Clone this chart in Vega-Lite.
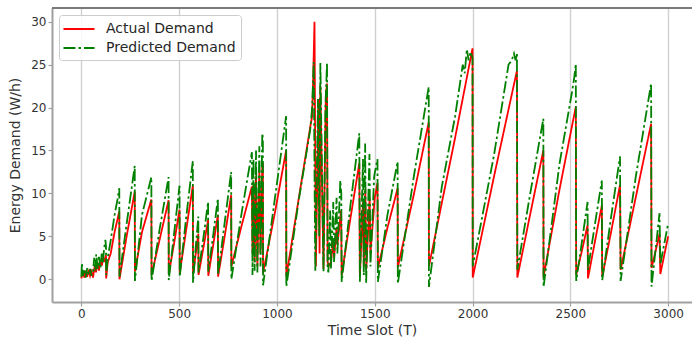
{
  "$schema": "https://vega.github.io/schema/vega-lite/v6.json",
  "width": 640,
  "height": 294,
  "autosize": {"type": "none"},
  "padding": {"left": 52, "top": 8, "right": 0, "bottom": 36},
  "config": {
    "font": "DejaVu Sans",
    "view": {"stroke": null},
    "axis": {
      "domainColor": "#a0a0a0", "domainWidth": 2,
      "tickColor": "#a0a0a0", "tickSize": 4, "tickWidth": 1.2,
      "gridColor": "#d0d0d0", "gridWidth": 1.4,
      "labelFont": "DejaVu Sans", "labelFontSize": 12, "labelColor": "#333333", "labelPadding": 2,
      "titleFont": "DejaVu Sans", "titleFontSize": 14, "titleFontWeight": "normal", "titleColor": "#333333"
    },
    "legend": {"labelFont": "DejaVu Sans"}
  },
  "layer": [
    {
      "data": {"values": [{}]},
      "mark": {"type": "rule", "color": "#7a7a7a", "strokeWidth": 2},
      "encoding": {"y": {"datum": 31.6, "type": "quantitative"}}
    },
    {
      "data": {"values": [
        {"t":0,"v":0.1,"s":"A"},{"t":8,"v":0.9,"s":"A"},{"t":15,"v":0.2,"s":"A"},{"t":22,"v":1.0,"s":"A"},{"t":30,"v":0.3,"s":"A"},{"t":38,"v":1.1,"s":"A"},{"t":45,"v":0.4,"s":"A"},{"t":52,"v":0.9,"s":"A"},{"t":60,"v":0.2,"s":"A"},{"t":68,"v":1.5,"s":"A"},{"t":75,"v":0.8,"s":"A"},{"t":82,"v":2.0,"s":"A"},{"t":90,"v":1.0,"s":"A"},{"t":98,"v":2.3,"s":"A"},{"t":105,"v":1.6,"s":"A"},{"t":112,"v":2.6,"s":"A"},{"t":120,"v":2.0,"s":"A"},{"t":126,"v":2.8,"s":"A"},
        {"t":127,"v":0.1,"s":"A"},{"t":135,"v":2.0,"s":"A"},{"t":150,"v":3.0,"s":"A"},{"t":170,"v":5.5,"s":"A"},{"t":194,"v":7.9,"s":"A"},
        {"t":195,"v":0.0,"s":"A"},{"t":230,"v":4.8,"s":"A"},{"t":273,"v":10.2,"s":"A"},
        {"t":274,"v":0.9,"s":"A"},{"t":310,"v":5.5,"s":"A"},{"t":358,"v":9.3,"s":"A"},
        {"t":359,"v":0.5,"s":"A"},{"t":400,"v":4.6,"s":"A"},{"t":446,"v":9.2,"s":"A"},
        {"t":447,"v":0.6,"s":"A"},{"t":475,"v":4.3,"s":"A"},{"t":502,"v":8.1,"s":"A"},
        {"t":503,"v":0.7,"s":"A"},{"t":535,"v":5.6,"s":"A"},{"t":570,"v":10.9,"s":"A"},
        {"t":571,"v":0.6,"s":"A"},{"t":585,"v":3.0,"s":"A"},{"t":598,"v":5.3,"s":"A"},
        {"t":599,"v":0.5,"s":"A"},{"t":625,"v":3.8,"s":"A"},{"t":648,"v":6.9,"s":"A"},
        {"t":649,"v":0.4,"s":"A"},{"t":675,"v":4.1,"s":"A"},{"t":698,"v":7.5,"s":"A"},
        {"t":699,"v":0.3,"s":"A"},{"t":735,"v":5.3,"s":"A"},{"t":766,"v":9.8,"s":"A"},
        {"t":767,"v":1.5,"s":"A"},{"t":820,"v":6.3,"s":"A"},{"t":872,"v":10.8,"s":"A"},
        {"t":875,"v":3.0,"s":"A"},{"t":880,"v":11.2,"s":"A"},{"t":886,"v":2.0,"s":"A"},{"t":893,"v":12.0,"s":"A"},{"t":900,"v":1.5,"s":"A"},{"t":910,"v":12.6,"s":"A"},{"t":916,"v":3.0,"s":"A"},{"t":925,"v":13.2,"s":"A"},{"t":928,"v":13.3,"s":"A"},
        {"t":929,"v":0.7,"s":"A"},{"t":990,"v":7.8,"s":"A"},{"t":1047,"v":15.0,"s":"A"},
        {"t":1048,"v":0.3,"s":"A"},{"t":1110,"v":9.2,"s":"A"},{"t":1170,"v":17.7,"s":"A"},
        {"t":1180,"v":19.0,"s":"A"},{"t":1186,"v":24.0,"s":"A"},{"t":1192,"v":30.0,"s":"A"},{"t":1199,"v":1.5,"s":"A"},{"t":1213,"v":21.0,"s":"A"},{"t":1218,"v":3.0,"s":"A"},{"t":1222,"v":22.5,"s":"A"},{"t":1238,"v":1.2,"s":"A"},{"t":1250,"v":21.5,"s":"A"},{"t":1256,"v":22.8,"s":"A"},{"t":1259,"v":2.0,"s":"A"},
        {"t":1264,"v":1.5,"s":"A"},{"t":1276,"v":2.0,"s":"A"},{"t":1288,"v":4.5,"s":"A"},{"t":1292,"v":2.5,"s":"A"},{"t":1305,"v":6.0,"s":"A"},{"t":1309,"v":4.0,"s":"A"},{"t":1328,"v":8.0,"s":"A"},
        {"t":1331,"v":0.5,"s":"A"},{"t":1375,"v":7.0,"s":"A"},{"t":1421,"v":13.5,"s":"A"},
        {"t":1424,"v":0.5,"s":"A"},{"t":1440,"v":9.0,"s":"A"},{"t":1444,"v":1.5,"s":"A"},{"t":1452,"v":10.5,"s":"A"},{"t":1457,"v":1.2,"s":"A"},{"t":1474,"v":9.5,"s":"A"},{"t":1478,"v":3.0,"s":"A"},{"t":1500,"v":9.5,"s":"A"},{"t":1514,"v":11.2,"s":"A"},
        {"t":1516,"v":1.3,"s":"A"},{"t":1565,"v":6.0,"s":"A"},{"t":1617,"v":10.6,"s":"A"},
        {"t":1618,"v":1.4,"s":"A"},{"t":1700,"v":9.9,"s":"A"},{"t":1776,"v":18.3,"s":"A"},
        {"t":1777,"v":1.5,"s":"A"},{"t":1843,"v":8.9,"s":"A"},{"t":1911,"v":16.5,"s":"A"},{"t":2000,"v":26.9,"s":"A"},
        {"t":2001,"v":0.2,"s":"A"},{"t":2110,"v":12.0,"s":"A"},{"t":2227,"v":24.3,"s":"A"},
        {"t":2229,"v":0.2,"s":"A"},{"t":2295,"v":7.6,"s":"A"},{"t":2362,"v":15.0,"s":"A"},
        {"t":2363,"v":0.3,"s":"A"},{"t":2445,"v":10.5,"s":"A"},{"t":2528,"v":20.1,"s":"A"},
        {"t":2530,"v":0.5,"s":"A"},{"t":2560,"v":3.4,"s":"A"},{"t":2588,"v":6.3,"s":"A"},
        {"t":2590,"v":0.1,"s":"A"},{"t":2625,"v":4.3,"s":"A"},{"t":2661,"v":8.6,"s":"A"},
        {"t":2663,"v":0.3,"s":"A"},{"t":2710,"v":5.7,"s":"A"},{"t":2754,"v":11.0,"s":"A"},
        {"t":2757,"v":1.1,"s":"A"},{"t":2835,"v":9.6,"s":"A"},{"t":2913,"v":18.1,"s":"A"},
        {"t":2915,"v":1.3,"s":"A"},{"t":2936,"v":3.3,"s":"A"},{"t":2956,"v":5.3,"s":"A"},
        {"t":2960,"v":0.6,"s":"A"},{"t":2980,"v":2.8,"s":"A"},{"t":3000,"v":5.0,"s":"A"},

        {"t":0,"v":0.3,"s":"P"},{"t":3,"v":1.9,"s":"P"},{"t":8,"v":0.4,"s":"P"},{"t":15,"v":1.2,"s":"P"},{"t":22,"v":0.2,"s":"P"},{"t":30,"v":1.3,"s":"P"},{"t":38,"v":0.5,"s":"P"},{"t":45,"v":1.2,"s":"P"},{"t":52,"v":0.4,"s":"P"},{"t":60,"v":1.0,"s":"P"},{"t":66,"v":2.5,"s":"P"},{"t":72,"v":1.0,"s":"P"},{"t":76,"v":2.9,"s":"P"},{"t":84,"v":1.2,"s":"P"},{"t":90,"v":2.6,"s":"P"},{"t":98,"v":1.3,"s":"P"},{"t":104,"v":3.0,"s":"P"},{"t":110,"v":1.8,"s":"P"},{"t":116,"v":3.5,"s":"P"},{"t":123,"v":4.6,"s":"P"},{"t":126,"v":3.8,"s":"P"},
        {"t":127,"v":0.5,"s":"P"},{"t":135,"v":2.5,"s":"P"},{"t":150,"v":4.5,"s":"P"},{"t":170,"v":7.5,"s":"P"},{"t":185,"v":9.3,"s":"P"},{"t":194,"v":10.6,"s":"P"},
        {"t":195,"v":0.3,"s":"P"},{"t":230,"v":6.2,"s":"P"},{"t":273,"v":13.2,"s":"P"},
        {"t":274,"v":-0.2,"s":"P"},{"t":310,"v":7.5,"s":"P"},{"t":358,"v":11.9,"s":"P"},
        {"t":359,"v":-0.2,"s":"P"},{"t":400,"v":5.8,"s":"P"},{"t":446,"v":11.9,"s":"P"},
        {"t":447,"v":-0.1,"s":"P"},{"t":475,"v":5.5,"s":"P"},{"t":502,"v":10.9,"s":"P"},
        {"t":503,"v":0.3,"s":"P"},{"t":535,"v":7.0,"s":"P"},{"t":570,"v":13.8,"s":"P"},
        {"t":571,"v":-0.4,"s":"P"},{"t":585,"v":3.8,"s":"P"},{"t":598,"v":7.3,"s":"P"},
        {"t":599,"v":0.8,"s":"P"},{"t":625,"v":5.0,"s":"P"},{"t":648,"v":9.0,"s":"P"},
        {"t":649,"v":0.9,"s":"P"},{"t":675,"v":5.3,"s":"P"},{"t":698,"v":9.4,"s":"P"},
        {"t":699,"v":0.5,"s":"P"},{"t":735,"v":7.0,"s":"P"},{"t":766,"v":12.5,"s":"P"},
        {"t":767,"v":0.0,"s":"P"},{"t":820,"v":7.8,"s":"P"},{"t":872,"v":14.8,"s":"P"},
        {"t":875,"v":0.5,"s":"P"},{"t":880,"v":14.0,"s":"P"},{"t":886,"v":1.0,"s":"P"},{"t":893,"v":15.0,"s":"P"},{"t":900,"v":0.8,"s":"P"},{"t":910,"v":15.5,"s":"P"},{"t":916,"v":1.5,"s":"P"},{"t":925,"v":17.0,"s":"P"},{"t":928,"v":16.5,"s":"P"},
        {"t":929,"v":-0.7,"s":"P"},{"t":990,"v":9.5,"s":"P"},{"t":1047,"v":19.0,"s":"P"},
        {"t":1048,"v":-0.85,"s":"P"},{"t":1110,"v":9.0,"s":"P"},{"t":1170,"v":17.4,"s":"P"},
        {"t":1180,"v":20.0,"s":"P"},{"t":1188,"v":25.3,"s":"P"},{"t":1196,"v":0.9,"s":"P"},{"t":1210,"v":21.0,"s":"P"},{"t":1216,"v":5.0,"s":"P"},{"t":1222,"v":25.2,"s":"P"},{"t":1238,"v":0.9,"s":"P"},{"t":1248,"v":20.0,"s":"P"},{"t":1256,"v":25.2,"s":"P"},{"t":1259,"v":1.2,"s":"P"},
        {"t":1263,"v":0.8,"s":"P"},{"t":1272,"v":8.0,"s":"P"},{"t":1276,"v":1.2,"s":"P"},{"t":1288,"v":9.0,"s":"P"},{"t":1292,"v":2.0,"s":"P"},{"t":1305,"v":9.5,"s":"P"},{"t":1309,"v":3.0,"s":"P"},{"t":1324,"v":11.5,"s":"P"},{"t":1329,"v":10.0,"s":"P"},
        {"t":1331,"v":-0.3,"s":"P"},{"t":1375,"v":8.5,"s":"P"},{"t":1421,"v":17.0,"s":"P"},
        {"t":1424,"v":-0.3,"s":"P"},{"t":1440,"v":14.0,"s":"P"},{"t":1444,"v":0.5,"s":"P"},{"t":1451,"v":15.8,"s":"P"},{"t":1456,"v":-0.5,"s":"P"},{"t":1473,"v":14.6,"s":"P"},{"t":1478,"v":1.5,"s":"P"},{"t":1497,"v":12.0,"s":"P"},{"t":1514,"v":14.0,"s":"P"},
        {"t":1516,"v":-0.3,"s":"P"},{"t":1565,"v":7.5,"s":"P"},{"t":1617,"v":13.7,"s":"P"},
        {"t":1618,"v":-0.5,"s":"P"},{"t":1700,"v":12.0,"s":"P"},{"t":1776,"v":22.4,"s":"P"},
        {"t":1777,"v":-0.9,"s":"P"},{"t":1843,"v":10.8,"s":"P"},{"t":1911,"v":19.0,"s":"P"},{"t":1950,"v":25.0,"s":"P"},{"t":1960,"v":24.0,"s":"P"},{"t":1971,"v":26.8,"s":"P"},{"t":1980,"v":25.5,"s":"P"},{"t":1990,"v":26.5,"s":"P"},{"t":2000,"v":25.8,"s":"P"},
        {"t":2001,"v":1.5,"s":"P"},{"t":2110,"v":14.5,"s":"P"},{"t":2184,"v":25.0,"s":"P"},{"t":2200,"v":25.5,"s":"P"},{"t":2212,"v":26.3,"s":"P"},{"t":2220,"v":25.5,"s":"P"},{"t":2227,"v":26.3,"s":"P"},
        {"t":2229,"v":1.1,"s":"P"},{"t":2295,"v":10.0,"s":"P"},{"t":2362,"v":18.7,"s":"P"},
        {"t":2363,"v":-0.9,"s":"P"},{"t":2445,"v":13.5,"s":"P"},{"t":2510,"v":22.0,"s":"P"},{"t":2520,"v":23.5,"s":"P"},{"t":2528,"v":25.1,"s":"P"},
        {"t":2530,"v":-0.2,"s":"P"},{"t":2560,"v":4.5,"s":"P"},{"t":2588,"v":9.0,"s":"P"},
        {"t":2590,"v":1.1,"s":"P"},{"t":2625,"v":6.3,"s":"P"},{"t":2661,"v":11.5,"s":"P"},
        {"t":2663,"v":-0.1,"s":"P"},{"t":2710,"v":7.5,"s":"P"},{"t":2754,"v":14.3,"s":"P"},
        {"t":2757,"v":-0.2,"s":"P"},{"t":2835,"v":12.0,"s":"P"},{"t":2913,"v":22.8,"s":"P"},
        {"t":2915,"v":-0.85,"s":"P"},{"t":2936,"v":3.5,"s":"P"},{"t":2956,"v":7.7,"s":"P"},
        {"t":2960,"v":1.7,"s":"P"},{"t":2980,"v":4.1,"s":"P"},{"t":3000,"v":6.5,"s":"P"}
      ]},
      "mark": {"type": "line", "strokeWidth": 1.8, "clip": true},
      "encoding": {
        "x": {"field": "t", "type": "quantitative",
              "scale": {"domain": [-150, 3122], "nice": false, "zero": false},
              "axis": {"values": [0, 500, 1000, 1500, 2000, 2500, 3000], "format": "d", "title": "Time Slot (T)", "titlePadding": 4}},
        "y": {"field": "v", "type": "quantitative",
              "scale": {"domain": [-2.65, 31.6], "nice": false, "zero": false},
              "axis": {"values": [0, 5, 10, 15, 20, 25, 30], "title": "Energy Demand (W/h)", "titlePadding": 8}},
        "color": {"field": "s", "type": "nominal",
                  "scale": {"domain": ["A", "P"], "range": ["#ff0000", "#008000"]},
                  "legend": {"title": null, "orient": "none", "legendX": 7, "legendY": 7,
                             "labelExpr": "datum.label == 'A' ? 'Actual Demand' : 'Predicted Demand'",
                             "labelFontSize": 14, "labelColor": "#262626", "labelOffset": 18,
                             "symbolType": "M-1.94,0H1.94", "symbolSize": 256, "symbolStrokeWidth": 2, "symbolOffset": 6,
                             "rowPadding": 3, "padding": 5,
                             "fillColor": "rgba(255,255,255,0.85)", "strokeColor": "#cccccc", "cornerRadius": 3}},
        "strokeDash": {"field": "s", "type": "nominal",
                       "scale": {"domain": ["A", "P"], "range": [[1, 0], [12, 3, 2.5, 3]]}}
      }
    }
  ]
}
